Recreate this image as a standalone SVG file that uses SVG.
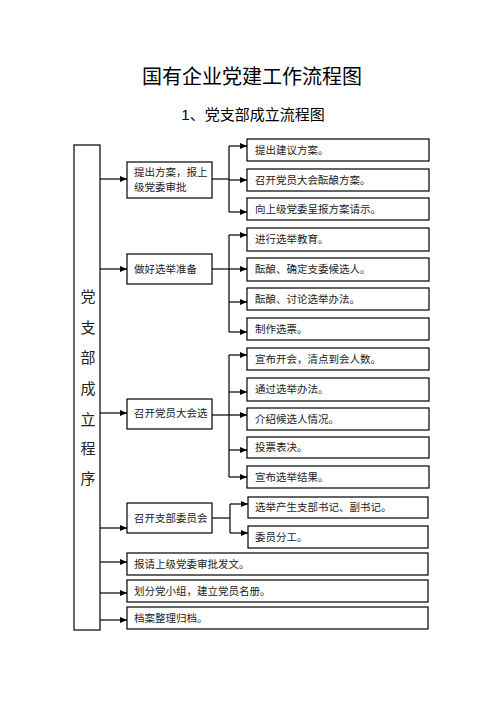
<svg xmlns="http://www.w3.org/2000/svg" width="500" height="706" viewBox="0 0 500 706">
<defs>
<marker id="ah" markerWidth="7" markerHeight="6" refX="7" refY="3" orient="auto" markerUnits="userSpaceOnUse">
<path d="M0,0 L7,3 L0,6 Z" fill="#000"/>
</marker>
<style>
.b{fill:#fff;stroke:#000;stroke-width:1.2}
.t{font-family:"Liberation Serif","Noto Sans CJK SC",serif;font-size:10.5px;fill:#222}
.v{font-family:"Liberation Serif","Noto Sans CJK SC",serif;font-size:15px;fill:#222;text-anchor:middle}
.h{font-family:"Liberation Sans","Noto Sans CJK SC",sans-serif;fill:#000;text-anchor:middle}
.c{fill:none;stroke:#000;stroke-width:1.2}
.a{fill:none;stroke:#000;stroke-width:1.2;marker-end:url(#ah)}
</style>
</defs>
<rect width="500" height="706" fill="#fff"/>
<text class="h" x="252" y="84" font-size="20">国有企业党建工作流程图</text>
<text class="h" x="253" y="120" font-size="15">1、党支部成立流程图</text>

<g id="connectors">
<line class="a" x1="100" y1="179" x2="127" y2="179"/>
<line class="a" x1="100" y1="269" x2="127" y2="269"/>
<line class="a" x1="100" y1="413" x2="127" y2="413"/>
<line class="a" x1="100" y1="528" x2="127" y2="528"/>
<line class="a" x1="100" y1="562" x2="127" y2="562"/>
<line class="a" x1="100" y1="593" x2="127" y2="593"/>
<line class="a" x1="100" y1="620" x2="127" y2="620"/>
<!-- group 1 -->
<line class="c" x1="212" y1="179" x2="229" y2="179"/>
<line class="c" x1="229" y1="146" x2="229" y2="212"/>
<line class="a" x1="229" y1="146" x2="247" y2="146"/>
<line class="a" x1="229" y1="180" x2="247" y2="180"/>
<line class="a" x1="229" y1="212" x2="247" y2="212"/>
<!-- group 2 -->
<line class="c" x1="212" y1="269" x2="229" y2="269"/>
<line class="c" x1="229" y1="235" x2="229" y2="332"/>
<line class="a" x1="229" y1="235" x2="247" y2="235"/>
<line class="a" x1="229" y1="269" x2="247" y2="269"/>
<line class="a" x1="229" y1="302" x2="247" y2="302"/>
<line class="a" x1="229" y1="332" x2="247" y2="332"/>
<!-- group 3 -->
<line class="c" x1="212" y1="415" x2="229" y2="415"/>
<line class="c" x1="229" y1="355" x2="229" y2="477"/>
<line class="a" x1="229" y1="355" x2="247" y2="355"/>
<line class="a" x1="229" y1="392" x2="247" y2="392"/>
<line class="a" x1="229" y1="415" x2="247" y2="415"/>
<line class="a" x1="229" y1="450" x2="247" y2="450"/>
<line class="a" x1="229" y1="477" x2="247" y2="477"/>
<!-- group 4 -->
<line class="c" x1="212" y1="518" x2="230" y2="518"/>
<line class="c" x1="230" y1="504" x2="230" y2="533"/>
<line class="a" x1="230" y1="504" x2="248" y2="504"/>
<line class="a" x1="230" y1="533" x2="248" y2="533"/>
</g>

<g id="main">
<rect class="b" x="74" y="145" width="26" height="485"/>
<text class="v" x="88" y="302">党</text>
<text class="v" x="88" y="333">支</text>
<text class="v" x="88" y="363">部</text>
<text class="v" x="88" y="394">成</text>
<text class="v" x="88" y="425">立</text>
<text class="v" x="88" y="454">程</text>
<text class="v" x="88" y="484">序</text>
</g>

<g id="s1"><rect class="b" x="127" y="162" width="85" height="36"/><text class="t" x="134" y="176">提出方案，报上</text><text class="t" x="134" y="191">级党委审批</text></g>
<g id="s2"><rect class="b" x="127" y="254" width="85" height="30"/><text class="t" x="134" y="273">做好选举准备</text></g>
<g id="s3"><rect class="b" x="127" y="399" width="85" height="30"/><text class="t" x="134" y="417">召开党员大会选</text></g>
<g id="s4"><rect class="b" x="127" y="503" width="85" height="30"/><text class="t" x="134" y="522">召开支部委员会</text></g>
<g id="s5"><rect class="b" x="127" y="553" width="301" height="22"/><text class="t" x="134" y="568">报请上级党委审批发文。</text></g>
<g id="s6"><rect class="b" x="127" y="580" width="301" height="22"/><text class="t" x="134" y="595">划分党小组，建立党员名册。</text></g>
<g id="s7"><rect class="b" x="127" y="607" width="301" height="22"/><text class="t" x="134" y="622">档案整理归档。</text></g>

<g id="n1a"><rect class="b" x="247" y="139" width="182" height="22"/><text class="t" x="255" y="154">提出建议方案。</text></g>
<g id="n1b"><rect class="b" x="247" y="169" width="182" height="22"/><text class="t" x="255" y="184">召开党员大会酝酿方案。</text></g>
<g id="n1c"><rect class="b" x="247" y="198" width="182" height="22"/><text class="t" x="255" y="213">向上级党委呈报方案请示。</text></g>

<g id="n2a"><rect class="b" x="247" y="228" width="182" height="23"/><text class="t" x="255" y="243">进行选举教育。</text></g>
<g id="n2b"><rect class="b" x="247" y="258" width="182" height="23"/><text class="t" x="255" y="273">酝酿、确定支委候选人。</text></g>
<g id="n2c"><rect class="b" x="247" y="288" width="182" height="22"/><text class="t" x="255" y="303">酝酿、讨论选举办法。</text></g>
<g id="n2d"><rect class="b" x="247" y="318" width="182" height="22"/><text class="t" x="255" y="333">制作选票。</text></g>

<g id="n3a"><rect class="b" x="247" y="348" width="182" height="22"/><text class="t" x="255" y="363">宣布开会，清点到会人数。</text></g>
<g id="n3b"><rect class="b" x="247" y="378" width="182" height="23"/><text class="t" x="255" y="393">通过选举办法。</text></g>
<g id="n3c"><rect class="b" x="247" y="408" width="182" height="22"/><text class="t" x="255" y="423">介绍候选人情况。</text></g>
<g id="n3d"><rect class="b" x="247" y="437" width="182" height="21"/><text class="t" x="255" y="451">投票表决。</text></g>
<g id="n3e"><rect class="b" x="247" y="466" width="182" height="22"/><text class="t" x="255" y="481">宣布选举结果。</text></g>

<g id="n4a"><rect class="b" x="248" y="497" width="180" height="21"/><text class="t" x="255" y="511">选举产生支部书记、副书记。</text></g>
<g id="n4b"><rect class="b" x="248" y="526" width="180" height="22"/><text class="t" x="255" y="541">委员分工。</text></g>
</svg>
